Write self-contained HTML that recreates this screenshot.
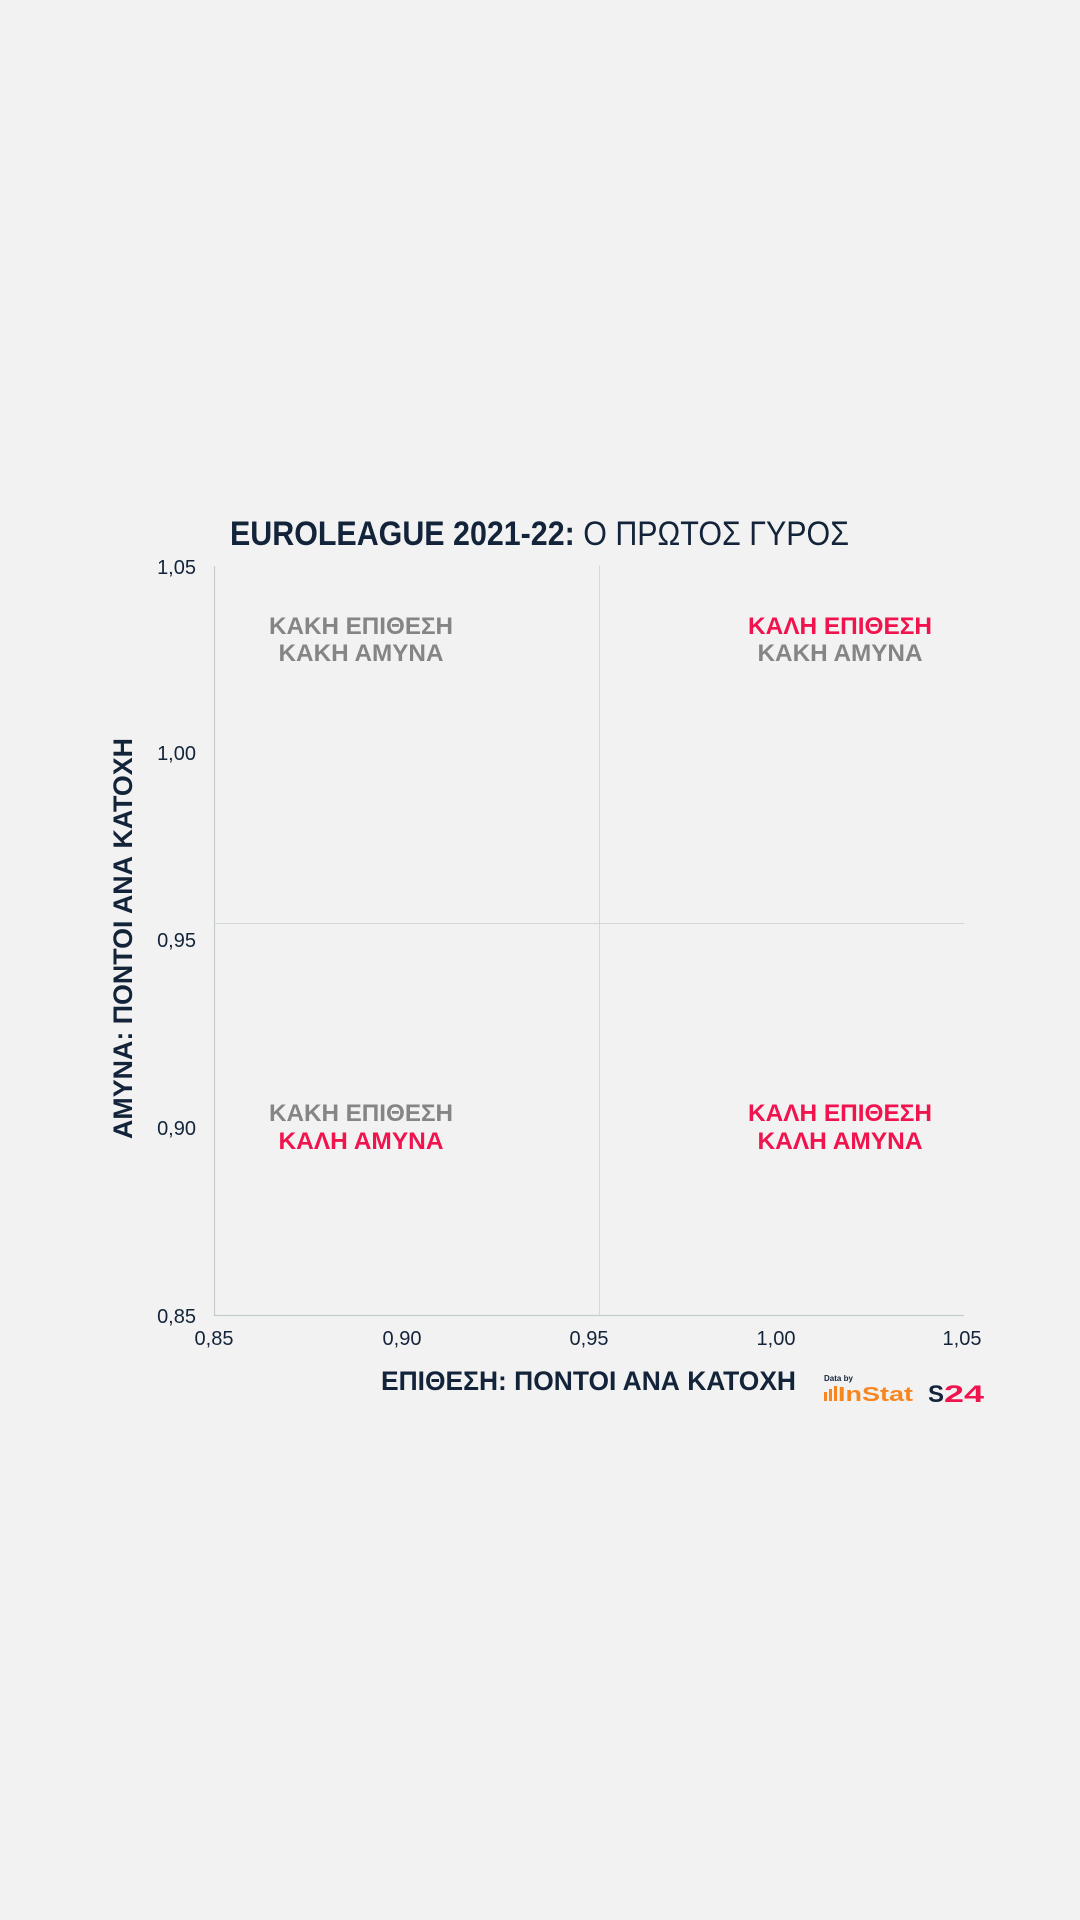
<!DOCTYPE html>
<html><head><meta charset="utf-8"><style>
html,body{margin:0;padding:0;background:#f2f2f2;}
svg{display:block;font-family:"Liberation Sans",sans-serif;}
</style></head><body>
<svg width="1080" height="1920" viewBox="0 0 1080 1920">
<rect width="1080" height="1920" fill="#f2f2f2"/>
<text x="230" y="545" font-size="34" font-weight="bold" fill="#13243a" textLength="619" lengthAdjust="spacingAndGlyphs"><tspan>EUROLEAGUE 2021-22:</tspan><tspan font-weight="normal"> Ο ΠΡΩΤΟΣ ΓΥΡΟΣ</tspan></text>
<line x1="214.5" y1="566" x2="214.5" y2="1316" stroke="#c4cccc" stroke-width="1.2"/>
<line x1="214" y1="1315.5" x2="964" y2="1315.5" stroke="#c4cccc" stroke-width="1.2"/>
<line x1="599.5" y1="566" x2="599.5" y2="1315" stroke="#d0d8d8" stroke-width="1"/>
<line x1="214" y1="923.5" x2="964" y2="923.5" stroke="#d0d8d8" stroke-width="1"/>
<g font-size="20" fill="#13243a" text-anchor="end">
<text x="196" y="574">1,05</text>
<text x="196" y="760">1,00</text>
<text x="196" y="947">0,95</text>
<text x="196" y="1135">0,90</text>
<text x="196" y="1323">0,85</text>
</g>
<g font-size="20" fill="#13243a" text-anchor="middle">
<text x="214" y="1345">0,85</text>
<text x="402" y="1345">0,90</text>
<text x="589" y="1345">0,95</text>
<text x="776" y="1345">1,00</text>
<text x="962" y="1345">1,05</text>
</g>
<g font-size="24" font-weight="bold" text-anchor="middle">
<text x="361" y="634" fill="#858585" textLength="184" lengthAdjust="spacingAndGlyphs">ΚΑΚΗ ΕΠΙΘΕΣΗ</text>
<text x="361" y="661" fill="#858585" textLength="165" lengthAdjust="spacingAndGlyphs">ΚΑΚΗ ΑΜΥΝΑ</text>
<text x="840" y="634" fill="#f0134d" textLength="184" lengthAdjust="spacingAndGlyphs">ΚΑΛΗ ΕΠΙΘΕΣΗ</text>
<text x="840" y="661" fill="#858585" textLength="165" lengthAdjust="spacingAndGlyphs">ΚΑΚΗ ΑΜΥΝΑ</text>
<text x="361" y="1121" fill="#858585" textLength="184" lengthAdjust="spacingAndGlyphs">ΚΑΚΗ ΕΠΙΘΕΣΗ</text>
<text x="361" y="1149" fill="#f0134d" textLength="165" lengthAdjust="spacingAndGlyphs">ΚΑΛΗ ΑΜΥΝΑ</text>
<text x="840" y="1121" fill="#f0134d" textLength="184" lengthAdjust="spacingAndGlyphs">ΚΑΛΗ ΕΠΙΘΕΣΗ</text>
<text x="840" y="1149" fill="#f0134d" textLength="165" lengthAdjust="spacingAndGlyphs">ΚΑΛΗ ΑΜΥΝΑ</text>
</g>
<text x="381" y="1390" font-size="27" font-weight="bold" fill="#13243a" textLength="415" lengthAdjust="spacingAndGlyphs">ΕΠΙΘΕΣΗ: ΠΟΝΤΟΙ ΑΝΑ ΚΑΤΟΧΗ</text>
<text transform="translate(132,1139) rotate(-90)" font-size="27" font-weight="bold" fill="#13243a" textLength="401" lengthAdjust="spacingAndGlyphs">ΑΜΥΝΑ: ΠΟΝΤΟΙ ΑΝΑ ΚΑΤΟΧΗ</text>
<text x="824" y="1381" font-size="8" font-weight="bold" fill="#13243a">Data by</text>
<g fill="#f7861e">
<rect x="824" y="1392" width="3" height="9"/><rect x="829" y="1389" width="3" height="12"/><rect x="834" y="1386" width="3" height="15"/>
</g>
<text x="838" y="1401" font-size="20" font-weight="bold" fill="#f7861e" textLength="75" lengthAdjust="spacingAndGlyphs">InStat</text>
<text x="928" y="1402" font-size="24" font-weight="bold" fill="#13243a">S</text>
<text x="944" y="1402" font-size="24" font-weight="bold" fill="#f0134d" textLength="40" lengthAdjust="spacingAndGlyphs">24</text>
</svg>
</body></html>
